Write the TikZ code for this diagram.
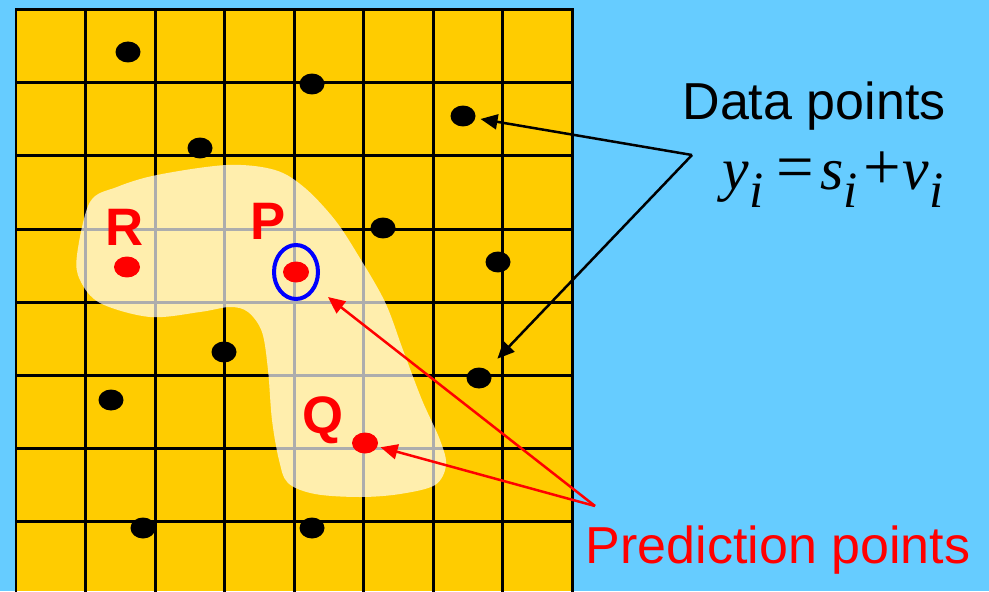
\documentclass[tikz,border=0pt]{standalone}
\usepackage{fontspec}
\setmainfont{Liberation Sans}
\newfontfamily\eqfont{Liberation Serif}
\usetikzlibrary{arrows.meta, positioning, shapes.geometric}

\definecolor{skyback}{HTML}{66CCFF}
\definecolor{fieldorange}{HTML}{FFCC00}

\newcommand{\subi}{\raisebox{-0.3em}{\fontsize{29}{29}\selectfont\itshape i}}
\newcommand{\bigop}[1]{{\fontsize{38}{38}\selectfont\upshape #1}}

\begin{document}
\begin{tikzpicture}[x=0.02cm, y=-0.02cm,
  datapt/.style={ellipse, fill=black, minimum width=0.5cm, minimum height=0.42cm, inner sep=0pt},
  predpt/.style={ellipse, fill=red, minimum width=0.52cm, minimum height=0.42cm, inner sep=0pt},
  ptlabel/.style={text=red, font=\fontsize{30}{34}\selectfont\bfseries, anchor=base, inner sep=0pt},
  biglabel/.style={font=\fontsize{29.6}{34}\selectfont, anchor=base, inner sep=0pt},
  gridline/.style={line width=0.06cm, line cap=rect},
  pointer/.style={line width=0.05cm, -{Triangle[length=0.34cm, width=0.3cm]}}]

\useasboundingbox (0,0) rectangle (989,591);
\fill[skyback] (0,0) rectangle (989,591);

% field with grid
\fill[fieldorange] (16,10) rectangle (572,591);
\foreach \i in {0,...,8}
  \draw[gridline] ({16+69.5*\i},10) -- ({16+69.5*\i},591);
\foreach \j in {0,...,7}
  \draw[gridline] (16,{10+73*\j}) -- (572,{10+73*\j});

% shaded prediction region
\fill[white, opacity=0.68] plot[smooth cycle, tension=0.55] coordinates {
  (77,255) (90,202) (117,187) (157,175) (227,165) (275,170) (305,188)
  (335,220) (358,255) (385,302) (403,350) (422,400) (440,440) (446,465)
  (435,485) (400,494) (360,497) (315,494) (288,483) (279,460) (272,420)
  (268,370) (262,332) (248,312) (230,307) (200,312) (150,317) (100,303) (80,280)};

% data points
\foreach \x/\y [count=\i] in {128/52, 312/84, 463/116, 200/148, 383/228, 498/262,
    224/352, 479/378, 111/400, 143/528, 312/528}
  \node[datapt] (d\i) at (\x,\y) {};

% prediction points
\node[predpt] (r) at (127,267) {};
\node[predpt] (p) at (296,272) {};
\node[predpt] (q) at (365,443) {};
\node[ellipse, draw=blue, line width=0.08cm, minimum width=0.88cm, minimum height=1.08cm, inner sep=0pt] (ring) at (p) {};

\node[ptlabel] (rlab) at (125,245) {R};
\node[ptlabel] (plab) at (268,239) {P};
\node[ptlabel] (qlab) at (323,433) {Q};

% captions
\node[biglabel] (datalab) at (814,120) {Data points};
\node[anchor=base, inner sep=0pt, font=\eqfont\fontsize{34}{38}\selectfont] (eq) at (833,190)
  {\itshape y\subi\kern0.22em\bigop{=}\kern0.1em\itshape s\subi\kern0.1em\bigop{+}\kern0.02em\itshape v\subi};
\node[biglabel, text=red] (predlab) at (778,563) {Prediction points};

\coordinate (dapex) at (692,155);
\coordinate (papex) at (595,506);

% connectors
\draw[pointer, shorten >=0.1cm] (dapex) -- (d3);
\draw[pointer, shorten >=0.3cm] (dapex) -- (d8);
\draw[pointer, red, shorten >=0.3cm] (papex) -- (ring);
\draw[pointer, red, shorten >=0.06cm] (papex) -- (q);
\end{tikzpicture}
\end{document}
